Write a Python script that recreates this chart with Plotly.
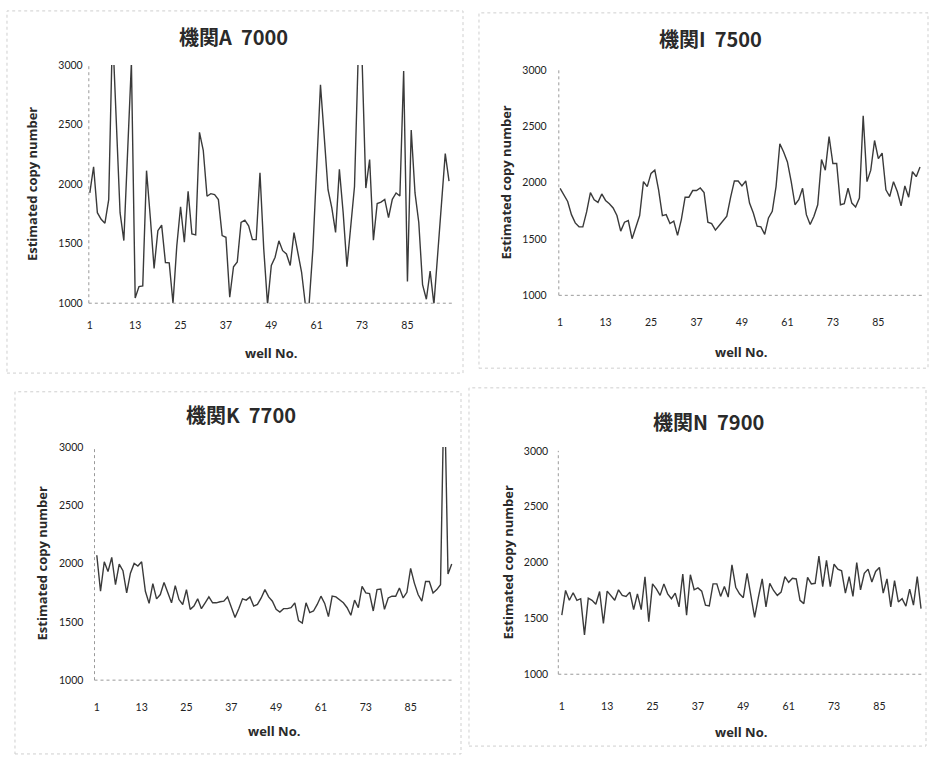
import plotly.graph_objects as go

W, H = 930, 757

wells = list(range(1, 97))
x_tick_vals = [1, 13, 25, 37, 49, 61, 73, 85]
y_tick_vals = [1000, 1500, 2000, 2500, 3000]

titles = ["機関A  7000", "機関I  7500", "機関K  7700", "機関N  7900"]
y_title = "Estimated copy number"
x_title = "well No."

copies_A = [1926, 2146, 1760, 1705, 1672, 1870, 3300, 2500, 1760, 1526,
            2250, 3020, 1044, 1140, 1146, 2113, 1720, 1292, 1609, 1656,
            1342, 1339, 1000, 1480, 1810, 1512, 1939, 1581, 1573, 2435,
            2284, 1898, 1920, 1912, 1870, 1568, 1554, 1050, 1306, 1347,
            1678, 1697, 1650, 1534, 1534, 2096, 1455, 990, 1317, 1386,
            1524, 1441, 1414, 1317, 1593, 1441, 1262, 990, 995, 1457,
            2150, 2835, 2397, 1953, 1800, 1595, 2124, 1760, 1306, 1650,
            1980, 3100, 3050, 1967, 2207, 1529, 1837, 1849, 1872, 1719,
            1872, 1926, 1900, 2950, 1182, 2455, 1926, 1678, 1155, 1033,
            1270, 990, 1405, 1872, 2256, 2025]

copies_I = [1950, 1892, 1833, 1716, 1643, 1608, 1608, 1740, 1912, 1848,
            1825, 1900, 1842, 1813, 1775, 1708, 1570, 1649, 1664, 1503,
            1614, 1708, 2009, 1965, 2082, 2111, 1936, 1708, 1716, 1637,
            1658, 1532, 1672, 1871, 1871, 1930, 1930, 1953, 1912, 1649,
            1637, 1579, 1620, 1658, 1702, 1870, 2015, 2015, 1971, 2015,
            1819, 1731, 1614, 1608, 1541, 1687, 1746, 1965, 2345, 2272,
            2184, 2009, 1804, 1848, 1950, 1716, 1629, 1702, 1804, 2205,
            2111, 2409, 2170, 2170, 1804, 1813, 1950, 1819, 1784, 1863,
            2594, 2009, 2111, 2374, 2213, 2263, 1936, 1877, 2009, 1921,
            1795, 1971, 1871, 2097, 2053, 2140]

copies_K = [2071, 1762, 2015, 1931, 2052, 1818, 1995, 1939, 1748, 1917,
            2001, 1979, 2015, 1762, 1658, 1827, 1697, 1734, 1838, 1753,
            1663, 1810, 1691, 1649, 1776, 1607, 1635, 1697, 1613, 1663,
            1714, 1663, 1663, 1672, 1677, 1714, 1621, 1537, 1613, 1697,
            1686, 1714, 1635, 1649, 1705, 1776, 1714, 1677, 1607, 1584,
            1613, 1613, 1621, 1663, 1510, 1490, 1663, 1579, 1593, 1649,
            1720, 1658, 1545, 1720, 1714, 1686, 1663, 1621, 1556, 1686,
            1621, 1804, 1748, 1742, 1593, 1776, 1781, 1607, 1705, 1720,
            1720, 1790, 1705, 1753, 1959, 1832, 1734, 1677, 1846, 1846,
            1748, 1776, 1818, 3600, 1911, 1995]

copies_N = [1529, 1750, 1662, 1729, 1662, 1676, 1353, 1682, 1662, 1626,
            1741, 1456, 1744, 1706, 1662, 1756, 1706, 1697, 1735, 1579,
            1720, 1579, 1873, 1471, 1809, 1765, 1706, 1809, 1720, 1676,
            1726, 1603, 1897, 1529, 1891, 1756, 1773, 1744, 1618, 1612,
            1809, 1809, 1697, 1785, 1691, 1979, 1779, 1720, 1685, 1903,
            1720, 1509, 1691, 1853, 1603, 1814, 1750, 1706, 1735, 1873,
            1823, 1859, 1853, 1662, 1632, 1867, 1809, 1814, 2058, 1785,
            2020, 1785, 1985, 1941, 1926, 1727, 1874, 1697, 2000, 1756,
            1903, 1941, 1826, 1920, 1956, 1727, 1853, 1603, 1838, 1647,
            1677, 1609, 1762, 1618, 1874, 1588]

series = [copies_A, copies_I, copies_K, copies_N]

# panel geometry in pixels: (axis left, first well px, last well px, axis right, y of 3000, y of 1000)
geom = [
    (87.0, 88.0, 448.0, 452.0, 60.0, 302.0),
    (558.0, 559.3, 920.0, 923.0, 65.0, 294.0),
    (92.7, 95.0, 450.7, 452.0, 448.0, 685.0),
    (557.5, 561.0, 921.0, 923.0, 452.0, 679.0),
]
# text placement per panel: title (x, y), y-title x, x-title y, x tick len, y tick len
text_pos = [
    ((232, 31), 30, 353, 12, 3),
    ((710, 33), 505, 352, 17, 9),
    ((240, 415), 40, 737, 17, 8),
    ((708, 422), 507, 738, 22, 7),
]
boxes = [(5, 5, 462, 373), (478, 7, 928, 368), (13, 392, 460, 760), (468, 388, 926, 752)]

fig = go.Figure()
layout = dict(width=W, height=H, autosize=False, margin=dict(l=0, r=0, t=0, b=0),
              paper_bgcolor="white", plot_bgcolor="white", showlegend=False)
annotations = []
shapes = []
tick_font = dict(family="Lato, 'Liberation Sans', sans-serif", size=10.5, color="#222222")

for i, (vals, g, tp) in enumerate(zip(series, geom, text_pos)):
    left, p1, p96, right, y3000, y1000 = g
    step = (p96 - p1) / 95.0
    xr = [1 - (p1 - left) / step, 96 + (right - p96) / step]
    xa = "x" if i == 0 else f"x{i+1}"
    ya = "y" if i == 0 else f"y{i+1}"
    xkey = "xaxis" if i == 0 else f"xaxis{i+1}"
    ykey = "yaxis" if i == 0 else f"yaxis{i+1}"
    fig.add_trace(go.Scatter(x=wells, y=vals, mode="lines", xaxis=xa, yaxis=ya,
                             line=dict(color="#3a3a3a", width=1.4), hoverinfo="x+y"))
    (tx, ty), ytx, xty, xtl, ytl = tp
    layout[xkey] = dict(domain=[left / W, right / W], range=xr, anchor=ya,
                        tickmode="array", tickvals=x_tick_vals, ticks="outside",
                        ticklen=xtl, tickcolor="rgba(0,0,0,0)", showgrid=False,
                        zeroline=False, showline=False, tickfont=tick_font, fixedrange=True)
    layout[ykey] = dict(domain=[1 - y1000 / H, 1 - y3000 / H], range=[1000, 3000], anchor=xa,
                        tickmode="array", tickvals=y_tick_vals, ticks="outside",
                        ticklen=ytl, tickcolor="rgba(0,0,0,0)", showgrid=False,
                        zeroline=False, showline=False, tickfont=tick_font, fixedrange=True)
    # axis lines (dotted grey like the scanned Excel axes)
    shapes.append(dict(type="line", xref=f"{xa} domain", yref=f"{ya} domain",
                       x0=0, x1=0, y0=0, y1=1, line=dict(color="#9a9a9a", width=1, dash="dot")))
    shapes.append(dict(type="line", xref=f"{xa} domain", yref=f"{ya} domain",
                       x0=0, x1=1, y0=0, y1=0, line=dict(color="#9a9a9a", width=1, dash="dot")))
    # chart-area border
    bx0, by0, bx1, by1 = boxes[i]
    shapes.append(dict(type="rect", xref="paper", yref="paper",
                       x0=bx0 / W, x1=bx1 / W, y0=1 - by1 / H, y1=1 - by0 / H,
                       line=dict(color="#cfcfcf", width=1, dash="dot")))
    annotations.append(dict(text=f"<b>{titles[i]}</b>", x=tx / W, y=1 - ty / H,
                            xref="paper", yref="paper", showarrow=False,
                            xanchor="center", yanchor="middle",
                            font=dict(family="'Noto Sans CJK JP', sans-serif", size=20, color="#2a2a2a")))
    annotations.append(dict(text=f"<b>{y_title}</b>", x=ytx / W,
                            y=1 - (y3000 + y1000) / 2 / H, xref="paper", yref="paper",
                            showarrow=False, textangle=-90, xanchor="center", yanchor="middle",
                            font=dict(family="'Open Sans', sans-serif", size=13, color="#2a2a2a")))
    annotations.append(dict(text=f"<b>{x_title}</b>", x=(left + right) / 2 / W,
                            y=1 - xty / H, xref="paper", yref="paper",
                            showarrow=False, xanchor="center", yanchor="middle",
                            font=dict(family="'Open Sans', sans-serif", size=13, color="#2a2a2a")))

layout["annotations"] = annotations
layout["shapes"] = shapes
fig.update_layout(**layout)
fig.write_html("out.html", config={"displayModeBar": False},
               post_script="document.body.style.margin='0';document.body.style.padding='0';")
